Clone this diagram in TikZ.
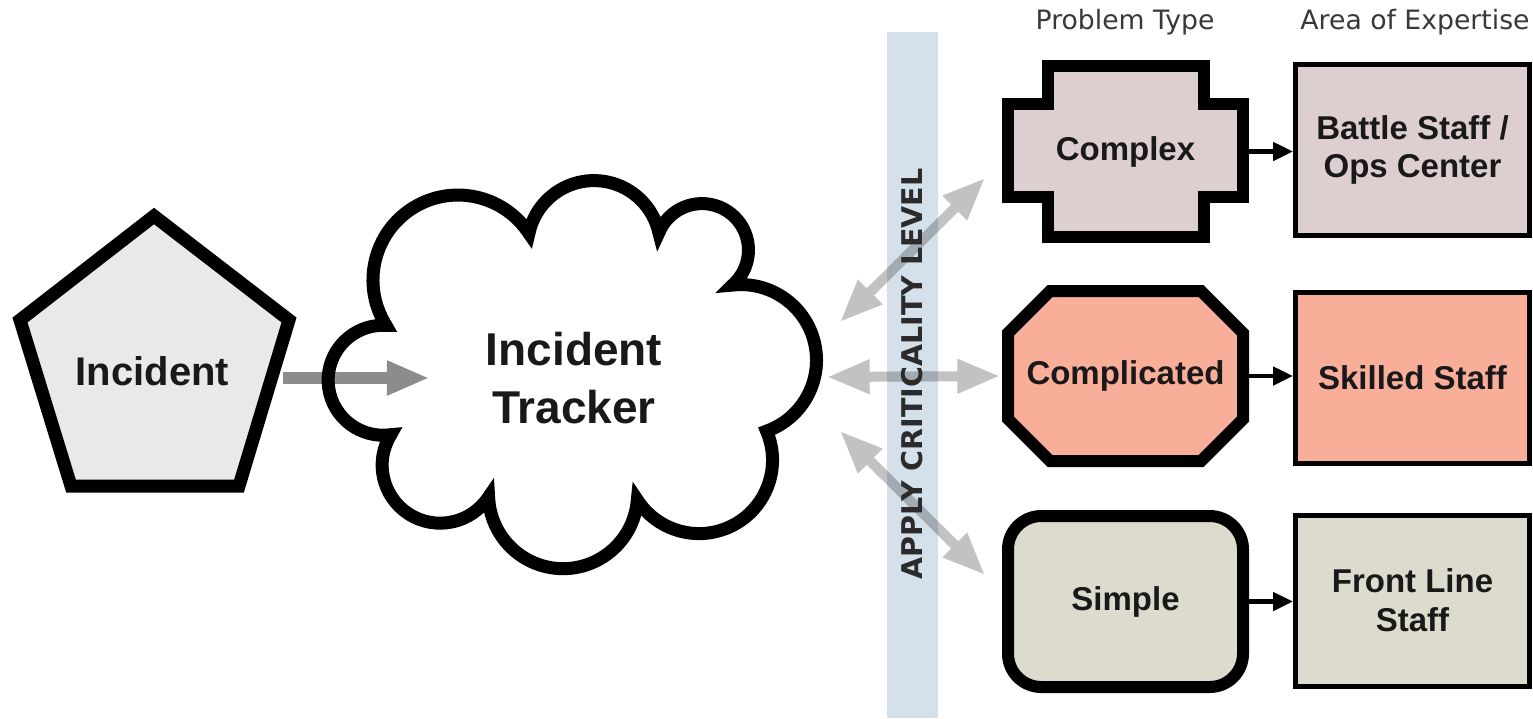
\documentclass[tikz,border=0pt]{standalone}
\usepackage{fontspec}
\setmainfont{Liberation Sans}
\newfontfamily\headfont{DejaVu Sans}
\usetikzlibrary{arrows.meta}

\definecolor{incfill}{HTML}{E9E9EB}
\definecolor{cpxfill}{HTML}{DDCFCF}
\definecolor{cmpfill}{HTML}{F9AE9A}
\definecolor{smpfill}{HTML}{DCDBCE}
\definecolor{bandblue}{HTML}{D5E1EA}
\definecolor{feedgray}{HTML}{8C8C8C}
\definecolor{duogray}{HTML}{C2C2C2}
\definecolor{duoband}{HTML}{A2ABB2}
\definecolor{headtext}{HTML}{383838}
\definecolor{bandtext}{HTML}{2B2B2B}

\begin{document}
\begin{tikzpicture}[x=0.75pt,y=0.75pt,yscale=-1,xscale=1,
  heavy/.style={line width=9.75pt, line join=miter},
  probline/.style={line width=9pt, line join=miter},
  boxtext/.style={font=\bfseries\fontsize{24.75}{29}\selectfont, text=black!90, align=center, inner sep=0pt},
  probnode/.style={boxtext, minimum width=176.25pt, minimum height=128.25pt, outer sep=4.5pt},
  areabox/.style={boxtext, draw, line width=3.75pt, minimum width=175.5pt, minimum height=128.25pt},
  feed/.style={draw=feedgray, line width=9pt, -{Triangle[length=32pt,width=24pt]}},
  duo/.style={draw=duogray, line width=7.5pt, {Triangle[length=32pt,width=24pt]}-{Triangle[length=32pt,width=24pt]}},
  hand/.style={line width=3.5pt, -{Triangle[length=15pt,width=13.5pt]}},
  head/.style={font=\headfont\fontsize{20}{24}\selectfont, text=headtext}
]
\useasboundingbox (0,0) rectangle (1533,718);
\fill[white] (0,0) rectangle (1533,718);

%Shape: Band
\fill[bandblue] (887,32) rectangle (938,718);

% Text Node
\node[head] (ptype) at (1125,22) {Problem Type};
% Text Node
\node[head] (area) at (1415,22) {Area of Expertise};

%Shape: Pentagon
\draw[heavy, fill=incfill] (154,216) -- (289,320) -- (239,486) -- (71,486) -- (20,320) -- cycle;
% Text Node
\node[font=\bfseries\fontsize{30}{36}\selectfont, text=black!90, minimum width=195pt, inner sep=0pt] (incident) at (152.5,371) {Incident};

% Text Node
\node[font=\bfseries\fontsize{34.5}{44}\selectfont, text=black!90, align=center, inner sep=0pt] (tracker) at (574,378) {Incident\\Tracker};

%Straight Lines
\draw[feed, shorten >=42pt] (incident.east |- tracker.west) -- (tracker.west);

%Shape: Cloud
\draw[heavy] (385.9,325.1) arc[start angle=148, end angle=326.6, radius=85]
  arc[start angle=192, end angle=347.4, radius=66.5]
  arc[start angle=202.1, end angle=408.8, radius=46.5]
  arc[start angle=263.6, end angle=430.2, radius=75.5]
  arc[start angle=336.8, end angle=507.1, radius=73.5]
  arc[start angle=4.5, end angle=177.8, radius=74.5]
  arc[start angle=33.3, end angle=211.7, radius=58]
  arc[start angle=82, end angle=273, radius=55] -- cycle;

%Shape: Complex
\draw[probline, fill=cpxfill] (1048,66) -- (1204,66) -- (1204,104) -- (1243,104) -- (1243,197) -- (1204,197) -- (1204,237) -- (1048,237) -- (1048,197) -- (1008,197) -- (1008,104) -- (1048,104) -- cycle;
\node[probnode] (complex) at (1125.5,151.5) {Complex};

%Shape: Complicated
\draw[probline, fill=cmpfill] (1050,291) -- (1201,291) -- (1243,333) -- (1243,419) -- (1201,461) -- (1050,461) -- (1008,419) -- (1008,333) -- cycle;
\node[probnode, minimum height=127.5pt] (complicated) at (1125.5,376) {Complicated};

%Shape: Simple
\node[probnode, draw, line width=9pt, fill=smpfill, rounded corners=25pt] (simple) at (1125.5,601.5) {Simple};

%Shape: Areas of expertise
\node[areabox, fill=cpxfill] (battle) at (1412.5,150) {Battle Staff /\\Ops Center};
\node[areabox, fill=cmpfill] (skilled) at (1412.5,377.5) {Skilled Staff};
\node[areabox, fill=smpfill] (front) at (1412.5,600.5) {Front Line\\Staff};

%Straight Lines
\coordinate (tr-ne) at (840,322);
\coordinate (tr-e) at (827,377);
\coordinate (tr-se) at (840,431);
\coordinate (cx-in) at (985,178);
\coordinate (sp-in) at (985,575);
\draw[duo] (tr-ne) -- (cx-in);
\draw[duo, shorten >=1.5pt] (tr-e) -- (complicated.west);
\draw[duo] (tr-se) -- (sp-in);
% darker where the arrows cross the band
\begin{scope}
\clip (887,32) rectangle (938,718);
\draw[duo, draw=duoband] (tr-ne) -- (cx-in);
\draw[duo, draw=duoband, shorten >=1.5pt] (tr-e) -- (complicated.west);
\draw[duo, draw=duoband] (tr-se) -- (sp-in);
\end{scope}

% Text Node
\node[rotate=90, font=\headfont\bfseries\fontsize{21.4}{25}\selectfont, text=bandtext] (crit) at (912.5,374) {APPLY CRITICALITY LEVEL};

%Straight Lines
\draw[hand] (complex.east) -- (complex.east -| battle.west);
\draw[hand] (complicated.east) -- (complicated.east -| skilled.west);
\draw[hand] (simple.east) -- (simple.east -| front.west);

\end{tikzpicture}
\end{document}
